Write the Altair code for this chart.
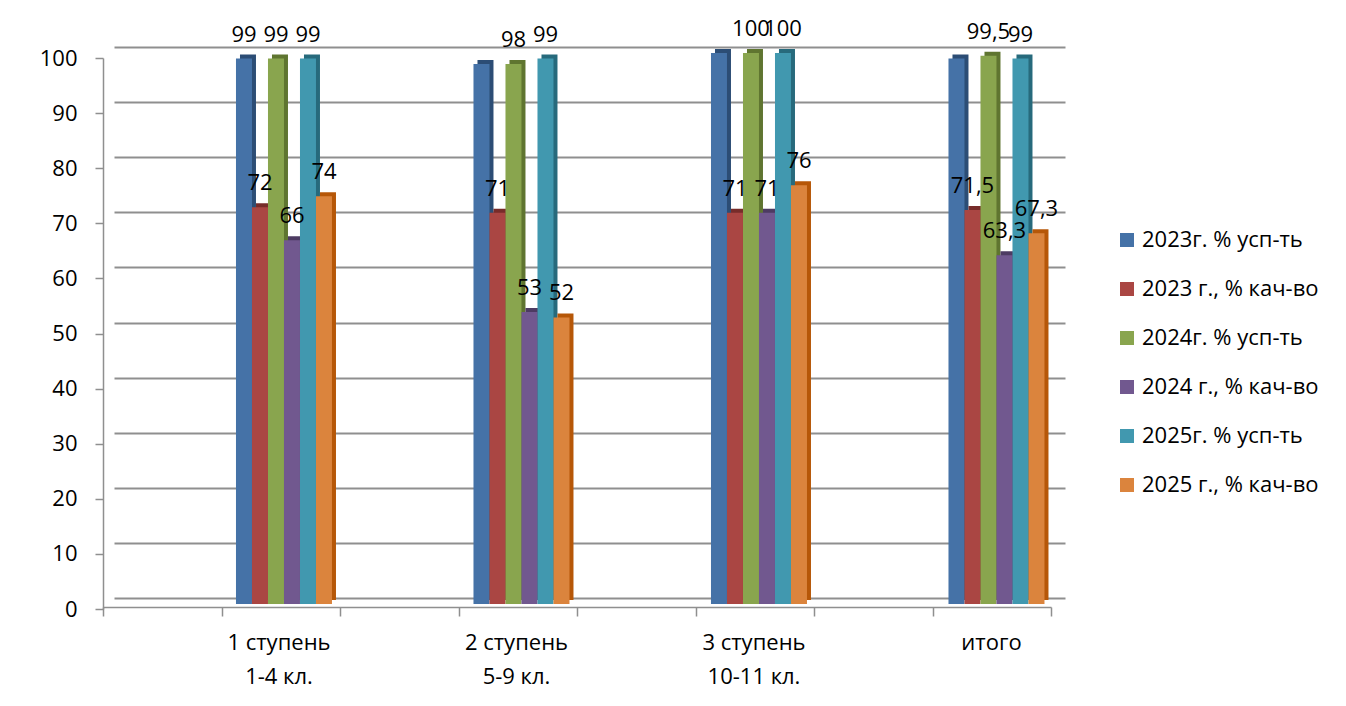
import altair as alt
import pandas as pd

categories = ["1 ступень\n1-4 кл.", "2 ступень\n5-9 кл.", "3 ступень\n10-11 кл.", "итого"]
series = ["2023г. % усп-ть", "2023 г., % кач-во", "2024г. % усп-ть",
          "2024 г., % кач-во", "2025г. % усп-ть", "2025 г., % кач-во"]
v2023_usp = [99, 98, 100, 99]
v2023_kach = [72, 71, 71, 71.5]
v2024_usp = [99, 98, 100, 99.5]
v2024_kach = [66, 53, 71, 63.3]
v2025_usp = [99, 99, 100, 99]
v2025_kach = [74, 52, 76, 67.3]
values = [v2023_usp, v2023_kach, v2024_usp, v2024_kach, v2025_usp, v2025_kach]
# data labels that are not shown in the original (series index, category index)
hidden_labels = [(0, 1), (0, 2), (0, 3)]
x_ticks = list(range(9))
y_ticks = list(range(0, 101, 10))

front_colors = ["#4572A7", "#AA4643", "#89A54E", "#71588F", "#4198AF", "#DB843D"]
side_colors = ["#2C4D75", "#772C2A", "#5F7530", "#4D3B62", "#276A7C", "#B65708"]

rows = []
for i, s in enumerate(series):
    for j, c in enumerate(categories):
        v = values[i][j]
        rows.append({
            "category": c,
            "series": s,
            "value": v,
            "side": side_colors[i],
            "label": f"{v:g}".replace(".", ","),
            "show": (i, j) not in hidden_labels,
        })
df = pd.DataFrame(rows)

FONT = "Open Sans"
GRID = "#8f8f8f"
W, H = 951, 551

x_enc = alt.X(
    "category:N", sort=categories,
    scale=alt.Scale(paddingInner=0.5958, paddingOuter=0.3, align=0.856),
    axis=alt.Axis(title=None, domain=False, ticks=False, labelAngle=0, orient="bottom",
                  labelExpr="split(datum.label, '\\n')", labelFontSize=22,
                  labelLineHeight=34, labelPadding=34, labelOffset=-5,
                  labelColor="#000", labelFont=FONT),
)
y_enc = alt.Y(
    "value:Q", scale=alt.Scale(domain=[0, 100], nice=False),
    axis=alt.Axis(values=y_ticks, title=None, grid=True, orient="left",
                  gridColor=GRID, gridWidth=2, domain=False, ticks=False, labels=False),
)

base = alt.Chart(df)

side = base.mark_bar(yOffset=2, y2Offset=2).encode(
    x=x_enc,
    xOffset=alt.XOffset("series:N", sort=series, scale=alt.Scale(range=[4, 100])),
    y=y_enc,
    fill=alt.Fill("side:N", scale=None),
)

xo = alt.XOffset("series:N", sort=series, scale=alt.Scale(range=[0, 96]))

front = base.mark_bar(yOffset=6, y2Offset=6).encode(
    x=x_enc, xOffset=xo, y=y_enc,
    color=alt.Color(
        "series:N", sort=series,
        scale=alt.Scale(domain=series, range=front_colors),
        legend=alt.Legend(title=None, orient="none", legendX=1002, legendY=182,
                          symbolType="square", symbolSize=196, symbolStrokeWidth=0,
                          labelFontSize=22, labelFont=FONT, labelColor="#000",
                          labelLimit=400, rowPadding=27, padding=0, labelOffset=4),
    ),
)

labels = base.transform_filter("datum.show").mark_text(
    dy=-11, baseline="alphabetic", fontSize=22, font=FONT, color="#000"
).encode(x=x_enc, xOffset=xo, y=y_enc, text="label:N")

main = alt.layer(side, front, labels).resolve_scale(xOffset="independent")

xtick_layer = alt.Chart(pd.DataFrame({"t": x_ticks})).mark_point(opacity=0).encode(
    x=alt.X("t:Q", scale=alt.Scale(domain=[0, 8], range=[-11, 937], nice=False),
            axis=alt.Axis(values=x_ticks, labels=False, grid=False, title=None,
                          orient="bottom", domainColor=GRID, domainWidth=1.5,
                          tickColor=GRID, tickWidth=1.5, tickSize=9, offset=9))
)

ytick_layer = alt.Chart(pd.DataFrame({"v": y_ticks})).mark_point(opacity=0).encode(
    y=alt.Y("v:Q", scale=alt.Scale(domain=[0, 100], range=[H + 11, 11], nice=False),
            axis=alt.Axis(values=y_ticks, title=None, grid=False, orient="left", offset=11,
                          domainColor=GRID, domainWidth=1.5, tickColor=GRID,
                          tickWidth=1.5, tickSize=8, labelFontSize=22, labelPadding=18,
                          labelColor="#000", labelFont=FONT))
)

chart = alt.layer(main, xtick_layer, ytick_layer).resolve_scale(
    x="independent", y="independent"
).properties(
    width=W, height=H,
    autosize=alt.AutoSizeParams(type="none"),
    padding={"left": 106, "top": 39, "right": 265, "bottom": 96},
).configure_view(strokeWidth=0)

chart.save("out.html", embed_options={"renderer": "svg", "actions": False})
